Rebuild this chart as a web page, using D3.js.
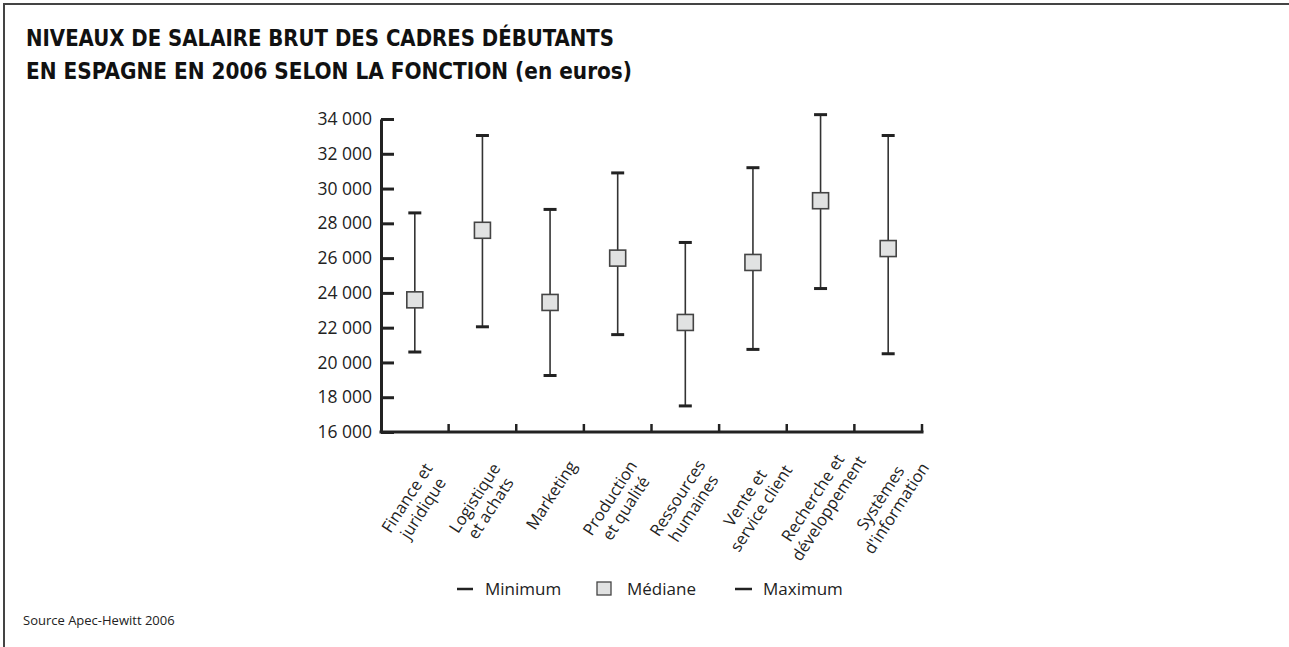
<!DOCTYPE html>
<html>
<head>
<meta charset="utf-8">
<script src="https://cdn.jsdelivr.net/npm/d3@7"></script>
<style>
  body { margin: 0; background: #fff; }
  svg { display: block; font-family: "Open Sans", sans-serif; }
</style>
</head>
<body>
<svg id="chart" width="1289" height="647"></svg>
<script>
// salaires bruts des cadres debutants, Espagne 2006
var categories = [
  ["Finance et", "juridique"],
  ["Logistique", "et achats"],
  ["Marketing"],
  ["Production", "et qualité"],
  ["Ressources", "humaines"],
  ["Vente et", "service client"],
  ["Recherche et", "développement"],
  ["Systèmes", "d'information"]
];
var minimum = [20600, 22050, 19250, 21600, 17500, 20750, 24250, 20500];
var mediane = [23600, 27600, 23450, 26000, 22300, 25750, 29300, 26550];
var maximum = [28600, 33050, 28800, 30900, 26900, 31200, 34250, 33050];
var yTicks = [16000, 18000, 20000, 22000, 24000, 26000, 28000, 30000, 32000, 34000];

var svg = d3.select("#chart");
var fmt = d3.formatLocale({ decimal: ",", thousands: " ", grouping: [3], currency: ["", " €"] }).format(",d");

// cadre de la figure
svg.append("path")
  .attr("d", "M4,647 V4 H1289")
  .attr("fill", "none")
  .attr("stroke", "#444")
  .attr("stroke-width", 2);

var titleFont = "'DejaVu Sans Condensed', sans-serif";
svg.append("text")
  .attr("x", 26).attr("y", 46)
  .attr("font-family", titleFont)
  .attr("font-weight", "bold").attr("font-size", 23).attr("fill", "#111")
  .attr("textLength", 588).attr("lengthAdjust", "spacingAndGlyphs")
  .text("NIVEAUX DE SALAIRE BRUT DES CADRES DÉBUTANTS");
svg.append("text")
  .attr("x", 26).attr("y", 79)
  .attr("font-family", titleFont)
  .attr("font-weight", "bold").attr("font-size", 23).attr("fill", "#111")
  .attr("textLength", 606).attr("lengthAdjust", "spacingAndGlyphs")
  .text("EN ESPAGNE EN 2006 SELON LA FONCTION (en euros)");

var mLeft = 381, mRight = 922, mTop = 119, mBottom = 432;
var x = d3.scaleBand().domain(d3.range(categories.length)).range([mLeft, mRight]);
var y = d3.scaleLinear().domain([16000, 34000]).range([mBottom, mTop]);

// axe vertical
var yAxis = svg.append("g")
  .attr("transform", "translate(" + mLeft + ",0)")
  .call(d3.axisLeft(y).tickValues(yTicks).tickFormat(fmt).tickSizeInner(-13).tickSizeOuter(0).tickPadding(9));
yAxis.select(".domain").attr("stroke", "#222").attr("stroke-width", 3);
yAxis.selectAll(".tick line").attr("stroke", "#222").attr("stroke-width", 3);
yAxis.selectAll(".tick text").attr("font-size", 17.5).attr("fill", "#222").attr("font-family", "'Open Sans', sans-serif");

// axe horizontal
svg.append("line")
  .attr("x1", mLeft - 1.5).attr("x2", mRight + 1.5)
  .attr("y1", mBottom).attr("y2", mBottom)
  .attr("stroke", "#222").attr("stroke-width", 3);
svg.selectAll(".xtick")
  .data(d3.range(categories.length))
  .enter().append("line")
  .attr("class", "xtick")
  .attr("x1", function(d) { return x(d) + x.bandwidth(); })
  .attr("x2", function(d) { return x(d) + x.bandwidth(); })
  .attr("y1", mBottom).attr("y2", mBottom - 8)
  .attr("stroke", "#222").attr("stroke-width", 2.5);

var cx = function(i) { return x(i) + x.bandwidth() / 2; };

// moustaches
var g = svg.append("g");
g.selectAll(".whisker")
  .data(d3.range(categories.length))
  .enter().append("line")
  .attr("x1", cx).attr("x2", cx)
  .attr("y1", function(i) { return y(minimum[i]); })
  .attr("y2", function(i) { return y(maximum[i]); })
  .attr("stroke", "#333").attr("stroke-width", 1.6);

[minimum, maximum].forEach(function(serie) {
  g.selectAll(null)
    .data(d3.range(categories.length))
    .enter().append("line")
    .attr("x1", function(i) { return cx(i) - 6.5; })
    .attr("x2", function(i) { return cx(i) + 6.5; })
    .attr("y1", function(i) { return y(serie[i]); })
    .attr("y2", function(i) { return y(serie[i]); })
    .attr("stroke", "#222").attr("stroke-width", 3);
});

g.selectAll(".med")
  .data(d3.range(categories.length))
  .enter().append("rect")
  .attr("x", function(i) { return cx(i) - 8; })
  .attr("y", function(i) { return y(mediane[i]) - 8; })
  .attr("width", 16).attr("height", 16)
  .attr("fill", "#e1e2e2").attr("stroke", "#444").attr("stroke-width", 1.6);

// libelles inclines, centres sous chaque colonne
var labels = svg.selectAll(".cat")
  .data(categories)
  .enter().append("text")
  .attr("class", "cat")
  .attr("font-size", 16.5).attr("fill", "#222")
  .attr("text-anchor", "middle")
  .attr("transform", function(d, i) {
    var dy = d.length > 1 ? 503 : 495;
    return "translate(" + (cx(i) + (d.length > 1 ? 0 : 1)) + "," + dy + ") rotate(-57)";
  });
labels.selectAll("tspan")
  .data(function(d) { return d; })
  .enter().append("tspan")
  .attr("x", 0)
  .attr("dy", function(d, j, nodes) {
    if (j > 0) return 19;
    return nodes.length > 1 ? -3.5 : 6;
  })
  .text(function(d) { return d; });

// legende
var leg = svg.append("g").attr("font-size", 17).attr("fill", "#222");
leg.append("line").attr("x1", 457).attr("x2", 473).attr("y1", 589).attr("y2", 589)
  .attr("stroke", "#222").attr("stroke-width", 2.5);
leg.append("text").attr("x", 485).attr("y", 595).text("Minimum");
leg.append("rect").attr("x", 597).attr("y", 582).attr("width", 14).attr("height", 13)
  .attr("fill", "#e1e2e2").attr("stroke", "#444").attr("stroke-width", 1.3);
leg.append("text").attr("x", 627).attr("y", 595).text("Médiane");
leg.append("line").attr("x1", 735).attr("x2", 752).attr("y1", 589).attr("y2", 589)
  .attr("stroke", "#222").attr("stroke-width", 2.5);
leg.append("text").attr("x", 763).attr("y", 595).text("Maximum");

svg.append("text")
  .attr("x", 23).attr("y", 625)
  .attr("font-size", 13).attr("fill", "#222")
  .text("Source Apec-Hewitt 2006");
</script>
</body>
</html>
